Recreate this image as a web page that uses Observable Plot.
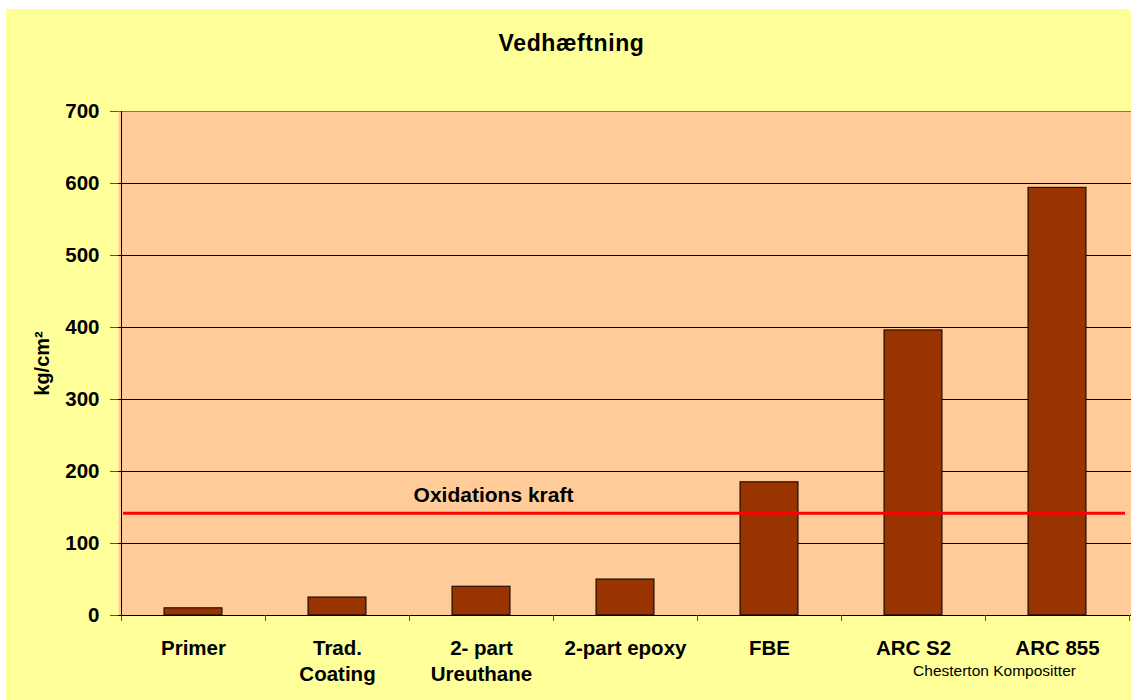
<!DOCTYPE html>
<html>
<head>
<meta charset="utf-8">
<script src="https://cdn.jsdelivr.net/npm/d3@7"></script>
<script src="https://cdn.jsdelivr.net/npm/@observablehq/plot@0.6"></script>
<style>
  html, body { margin: 0; padding: 0; background: #ffffff; }
  #wrap { position: relative; width: 1131px; height: 700px; overflow: hidden; }
  #bg { position: absolute; left: 6px; top: 9px; width: 1125px; height: 691px; background: #FFFF99; }
  #title { position: absolute; left: 6px; width: 1131px; top: 30px; text-align: center;
           font-family: "Liberation Sans", Arial, sans-serif; font-weight: bold; font-size: 23px; letter-spacing: 0.6px; color: #000; }
  #chart { position: absolute; left: 0; top: 0; }
  #chart svg { overflow: visible; }
</style>
</head>
<body>
<div id="wrap">
  <div id="bg"></div>
  <div id="chart"></div>
  <div id="title">Vedhæftning</div>
</div>
<script>
// ---- data ----
const categories = ["Primer", "Trad.\nCoating", "2- part\nUreuthane", "2-part epoxy", "FBE", "ARC S2", "ARC 855"];
const values = [10, 25, 40, 50, 185, 396, 594];
const yTicks = [0, 100, 200, 300, 400, 500, 600, 700];
const thresholdValue = [142];
const thresholdLabel = ["Oxidations kraft"];
const yLabel = ["kg/cm²"];
const caption = ["Chesterton Kompositter"];

const data = categories.map((c, i) => ({category: c, value: values[i]}));

// custom mark: category boundary ticks + left axis line
function boundaryTicks(index, scales, channels, dimensions) {
  const x = scales.x, y = scales.y;
  const step = x(categories[1]) - x(categories[0]);
  const start = x(categories[0]) - 0.3 * step;
  const y0 = y(0), yTop = y(700);
  const g = d3.create("svg:g");
  for (let i = 0; i <= categories.length; i++) {
    const bx = Math.round(start + i * step) + 0.5;
    g.append("line").attr("x1", bx).attr("x2", bx).attr("y1", y0).attr("y2", y0 + 6)
      .attr("stroke", "#555").attr("stroke-width", 1);
  }
  const lx = Math.round(start) + 0.5;
  g.append("line").attr("x1", lx).attr("x2", lx).attr("y1", yTop).attr("y2", y0 + 0.5)
    .attr("stroke", "#000").attr("stroke-width", 1);
  return g.node();
}

const plot = Plot.plot({
  width: 1131,
  height: 700,
  marginLeft: 118,
  marginRight: 0,
  marginTop: 111,
  marginBottom: 85,
  style: {fontFamily: "'Liberation Sans', Arial, sans-serif", background: "transparent", color: "#000", overflow: "visible"},
  x: {domain: categories, paddingInner: 0.6, paddingOuter: 0.3, label: null},
  y: {domain: [0, 700], ticks: yTicks, label: null},
  marks: [
    Plot.frame({fill: "#FFCC99", stroke: null}),
    Plot.ruleY(yTicks, {stroke: d => d === 700 ? "#777" : "#000", strokeWidth: 1}),
    Plot.barY(data, {x: "category", y: "value", fill: "#993300", stroke: "#000", strokeWidth: 1}),
    Plot.ruleY(thresholdValue, {stroke: "#FF0000", strokeWidth: 3, insetLeft: 5, insetRight: 6}),
    Plot.text(thresholdLabel, {x: () => categories[2], y: () => thresholdValue[0], text: d => d, dx: 12, dy: -18,
      fontSize: 21, fontWeight: "bold", fill: "#000"}),
    boundaryTicks,
    Plot.axisY({ticks: yTicks, tickSize: 8, tickPadding: 11, stroke: "#555", fontSize: 20.5, fontWeight: "bold",
      tickFormat: d => String(d), label: null}),
    Plot.axisX({tickSize: 0, tickPadding: 21, fontSize: 20.5, fontWeight: "bold", lineHeight: 1.28, label: null}),
    Plot.text(yLabel, {frameAnchor: "left", textAnchor: "middle", text: d => d, dx: -76, rotate: -90, fontSize: 20, fontWeight: "bold", fill: "#000"}),
    Plot.text(caption, {x: () => categories[6], y: () => 0, text: d => d, dx: -63, dy: 56, fontSize: 15.5, fill: "#000"})
  ]
});
document.getElementById("chart").appendChild(plot);
</script>
</body>
</html>
